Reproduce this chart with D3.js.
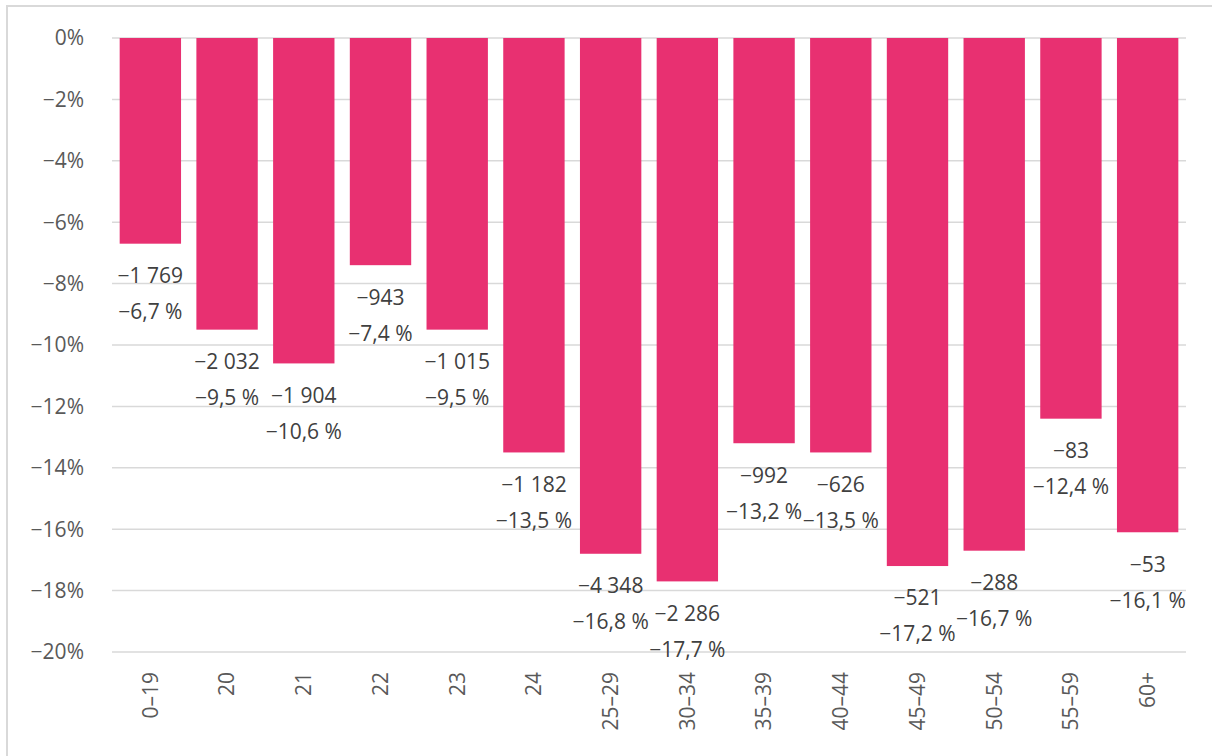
<!DOCTYPE html>
<html>
<head>
<meta charset="utf-8">
<script src="https://cdn.jsdelivr.net/npm/d3@7"></script>
<style>
  body { margin: 0; background: #fff; }
  svg { display: block; font-family: "Open Sans", "Noto Sans", sans-serif; }
</style>
</head>
<body>
<svg></svg>
<script>
const categories = ['0–19', '20', '21', '22', '23', '24', '25–29', '30–34', '35–39', '40–44', '45–49', '50–54', '55–59', '60+']
const pct = [-6.7, -9.5, -10.6, -7.4, -9.5, -13.5, -16.8, -17.7, -13.2, -13.5, -17.2, -16.7, -12.4, -16.1]
const counts = [-1769, -2032, -1904, -943, -1015, -1182, -4348, -2286, -992, -626, -521, -288, -83, -53]
const yTicks = [0, -2, -4, -6, -8, -10, -12, -14, -16, -18, -20]

const width = 1212, height = 756
const svg = d3.select('svg').attr('width', width).attr('height', height)

// outer frame
svg.append('rect')
	.attr('x', 7).attr('y', 6)
	.attr('width', width + 10).attr('height', height + 10)
	.attr('fill', 'none').attr('stroke', '#d9d9d9').attr('stroke-width', 2)

const plotLeft = 112, plotRight = 1186, plotTop = 38, plotBottom = 652

const x = d3.scaleBand().domain(categories).range([plotLeft, plotRight]).paddingInner(0.2).paddingOuter(0.1)
const y = d3.scaleLinear().domain([0, -20]).range([plotTop, plotBottom])

const minus = s => s.replace(/-/g, '−')
const fmtCount = v => minus(d3.format(',')(v).replace(/,/g, ' '))
const fmtPct = v => minus(d3.format('.1f')(v).replace('.', ',')) + ' %'

// gridlines
svg.append('g')
	.selectAll('line')
	.data(yTicks)
	.join('line')
		.attr('x1', plotLeft).attr('x2', plotRight)
		.attr('y1', d => y(d)).attr('y2', d => y(d))
		.attr('stroke', '#d9d9d9').attr('stroke-width', 1.5)

// y axis labels
svg.append('g')
	.selectAll('text')
	.data(yTicks)
	.join('text')
		.attr('x', 84)
		.attr('y', d => y(d))
		.attr('dy', '0.35em')
		.attr('text-anchor', 'end')
		.attr('font-size', 21)
		.attr('fill', '#595959')
		.text(d => minus(d + '%'))

// bars
svg.append('g')
	.selectAll('rect')
	.data(categories)
	.join('rect')
		.attr('x', d => x(d))
		.attr('y', y(0))
		.attr('width', x.bandwidth())
		.attr('height', (d, i) => y(pct[i]) - y(0))
		.attr('fill', '#e83071')

// data labels
const lab = svg.append('g').attr('font-size', 21).attr('fill', '#404040').attr('text-anchor', 'middle')
categories.forEach((c, i) => {
	const cx = x(c) + x.bandwidth() / 2
	const yb = y(pct[i])
	lab.append('text').attr('x', cx).attr('y', yb + 32).attr('dy', '0.35em').text(fmtCount(counts[i]))
	lab.append('text').attr('x', cx).attr('y', yb + 68).attr('dy', '0.35em').text(fmtPct(pct[i]))
})

// x axis labels
svg.append('g')
	.selectAll('text')
	.data(categories)
	.join('text')
		.attr('transform', d => `translate(${x(d) + x.bandwidth() / 2},672) rotate(-90)`)
		.attr('dy', '0.35em')
		.attr('text-anchor', 'end')
		.attr('font-size', 21)
		.attr('fill', '#595959')
		.text(d => d)
</script>
</body>
</html>
